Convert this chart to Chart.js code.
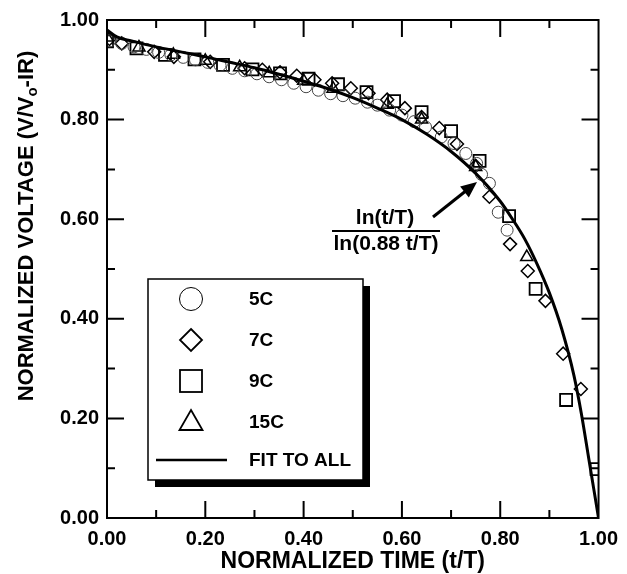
<!DOCTYPE html>
<html>
<head>
<meta charset="utf-8">
<script src="https://cdn.jsdelivr.net/npm/chart.js@4.4.0/dist/chart.umd.min.js"></script>
<style>
  html, body { margin: 0; padding: 0; background: #fff; }
  canvas { display: block; }
</style>
</head>
<body>
<canvas id="chart" width="627" height="574"></canvas>
<script>
// values (t/T, V/Vo-IR)
const fitTime = [0, 0.02, 0.05, 0.1, 0.15, 0.2, 0.25, 0.3, 0.35, 0.4, 0.45, 0.5, 0.55, 0.6, 0.65, 0.7, 0.75, 0.8, 0.825, 0.85, 0.875, 0.9, 0.925, 0.95, 0.965, 0.98, 0.99, 1.0];
const fitVolt = [0.98, 0.966, 0.958, 0.946, 0.936, 0.926, 0.915, 0.904, 0.891, 0.877, 0.862, 0.844, 0.823, 0.8, 0.771, 0.736, 0.692, 0.636, 0.6, 0.56, 0.51, 0.452, 0.38, 0.286, 0.21, 0.12, 0.06, 0];

const c5Time = [0.005, 0.03, 0.055, 0.08, 0.105, 0.13, 0.155, 0.18, 0.205, 0.23, 0.255, 0.28, 0.305, 0.33, 0.355, 0.38, 0.405, 0.43, 0.455, 0.48, 0.505, 0.53, 0.55, 0.575, 0.6, 0.625, 0.648, 0.68, 0.706, 0.73, 0.752, 0.762, 0.778, 0.796, 0.814];
const c5Volt = [0.958, 0.953, 0.946, 0.941, 0.935, 0.930, 0.925, 0.920, 0.915, 0.909, 0.903, 0.898, 0.892, 0.886, 0.880, 0.873, 0.866, 0.859, 0.852, 0.848, 0.843, 0.835, 0.829, 0.819, 0.809, 0.796, 0.785, 0.765, 0.752, 0.732, 0.712, 0.69, 0.672, 0.614, 0.578];

const c7Time = [0.005, 0.03, 0.096, 0.136, 0.21, 0.28, 0.316, 0.352, 0.386, 0.422, 0.458, 0.496, 0.532, 0.57, 0.606, 0.64, 0.676, 0.712, 0.75, 0.778, 0.82, 0.856, 0.892, 0.928, 0.964];
const c7Volt = [0.962, 0.953, 0.936, 0.926, 0.916, 0.903, 0.9, 0.895, 0.888, 0.88, 0.873, 0.863, 0.853, 0.84, 0.823, 0.805, 0.783, 0.751, 0.707, 0.645, 0.55, 0.496, 0.436, 0.33, 0.259];

const c9Time = [0, 0.06, 0.118, 0.178, 0.236, 0.296, 0.352, 0.41, 0.47, 0.528, 0.584, 0.64, 0.70, 0.758, 0.818, 0.872, 0.934, 0.996];
const c9Volt = [0.957, 0.943, 0.93, 0.921, 0.91, 0.901, 0.893, 0.882, 0.871, 0.855, 0.837, 0.815, 0.777, 0.717, 0.606, 0.46, 0.237, 0.098];

const c15Time = [0, 0.065, 0.135, 0.2, 0.27, 0.33, 0.4, 0.46, 0.57, 0.64, 0.75, 0.854];
const c15Volt = [0.965, 0.945, 0.93, 0.918, 0.905, 0.893, 0.878, 0.862, 0.83, 0.80, 0.705, 0.524];

const tickLabels = ['0.00', '0.20', '0.40', '0.60', '0.80', '1.00'];
const legendLabels = ['5C', '7C', '9C', '15C', 'FIT TO ALL'];

const FONT = '"Liberation Sans", Arial, Helvetica, sans-serif';

function pts(xs, ys) {
    return xs.map((x, i) => ({ x: x, y: ys[i] }));
}

// frame, inward ticks, titles, annotation and boxed legend
const decorations = {
    id: 'decorations',
    afterDraw(chart) {
        const ctx = chart.ctx;
        const a = chart.chartArea;
        const xs = chart.scales.x, ys = chart.scales.y;
        ctx.save();
        ctx.strokeStyle = '#000';
        ctx.lineWidth = 2;
        ctx.strokeRect(a.left, a.top, a.right - a.left, a.bottom - a.top);

        ctx.beginPath();
        for (let i = 1; i < 10; i++) {
            const len = i % 2 === 0 ? 17 : 8;
            const px = xs.getPixelForValue(i / 10);
            ctx.moveTo(px, a.bottom); ctx.lineTo(px, a.bottom - len);
            ctx.moveTo(px, a.top); ctx.lineTo(px, a.top + len);
            const py = ys.getPixelForValue(i / 10);
            ctx.moveTo(a.left, py); ctx.lineTo(a.left + len, py);
            ctx.moveTo(a.right, py); ctx.lineTo(a.right - len, py);
        }
        ctx.stroke();

        // axis titles
        ctx.fillStyle = '#000';
        ctx.textBaseline = 'middle';
        ctx.textAlign = 'center';
        ctx.font = 'bold 23px ' + FONT;
        ctx.fillText('NORMALIZED TIME (t/T)', (a.left + a.right) / 2, 562);

        ctx.save();
        ctx.translate(27, 226);
        ctx.rotate(-Math.PI / 2);
        const big = 'bold 22px ' + FONT, small = 'bold 15px ' + FONT;
        const p1 = 'NORMALIZED VOLTAGE (V/V', p2 = 'o', p3 = '-IR)';
        ctx.font = big; const w1 = ctx.measureText(p1).width, w3 = ctx.measureText(p3).width;
        ctx.font = small; const w2 = ctx.measureText(p2).width;
        let x0 = -(w1 + w2 + w3) / 2;
        ctx.textAlign = 'left';
        ctx.font = big; ctx.fillText(p1, x0, 0);
        ctx.font = small; ctx.fillText(p2, x0 + w1, 6);
        ctx.font = big; ctx.fillText(p3, x0 + w1 + w2, 0);
        ctx.restore();

        // fraction annotation and arrow
        ctx.textAlign = 'center';
        ctx.font = 'bold 21px ' + FONT;
        ctx.fillText('ln(t/T)', 385, 218);
        ctx.fillText('ln(0.88 t/T)', 386, 244);
        ctx.lineWidth = 2;
        ctx.beginPath(); ctx.moveTo(332, 231); ctx.lineTo(440, 231); ctx.stroke();

        const ax0 = 433, ay0 = 217, ax1 = 477, ay1 = 182;
        const ang = Math.atan2(ay1 - ay0, ax1 - ax0);
        ctx.lineWidth = 3;
        ctx.beginPath(); ctx.moveTo(ax0, ay0);
        ctx.lineTo(ax1 - 12 * Math.cos(ang), ay1 - 12 * Math.sin(ang)); ctx.stroke();
        ctx.beginPath();
        ctx.moveTo(ax1, ay1);
        ctx.lineTo(ax1 - 16 * Math.cos(ang) + 7 * Math.sin(ang), ay1 - 16 * Math.sin(ang) - 7 * Math.cos(ang));
        ctx.lineTo(ax1 - 16 * Math.cos(ang) - 7 * Math.sin(ang), ay1 - 16 * Math.sin(ang) + 7 * Math.cos(ang));
        ctx.closePath(); ctx.fill();

        // legend box with drop shadow
        ctx.fillStyle = '#000';
        ctx.fillRect(155, 286, 215, 201);
        ctx.fillStyle = '#fff';
        ctx.fillRect(148, 279, 215, 201);
        ctx.lineWidth = 1.5;
        ctx.strokeRect(148, 279, 215, 201);

        const cx = 191, rows = [299, 340, 381, 422, 460];
        ctx.strokeStyle = '#000';
        ctx.lineWidth = 1;
        ctx.beginPath(); ctx.arc(cx, rows[0], 11.5, 0, Math.PI * 2); ctx.stroke();
        ctx.lineWidth = 1.8;
        ctx.beginPath();
        ctx.moveTo(cx, rows[1] - 11); ctx.lineTo(cx + 11, rows[1]);
        ctx.lineTo(cx, rows[1] + 11); ctx.lineTo(cx - 11, rows[1]); ctx.closePath(); ctx.stroke();
        ctx.strokeRect(cx - 11, rows[2] - 11, 22, 22);
        ctx.beginPath();
        ctx.moveTo(cx, rows[3] - 12); ctx.lineTo(cx + 11.5, rows[3] + 8);
        ctx.lineTo(cx - 11.5, rows[3] + 8); ctx.closePath(); ctx.stroke();
        ctx.lineWidth = 2.5;
        ctx.beginPath(); ctx.moveTo(156, rows[4]); ctx.lineTo(227, rows[4]); ctx.stroke();

        ctx.fillStyle = '#000';
        ctx.textAlign = 'left';
        ctx.font = 'bold 19px ' + FONT;
        legendLabels.forEach((t, i) => ctx.fillText(t, 249, rows[i] + 1));
        ctx.restore();
    }
};

const tickFont = { family: FONT, size: 20, weight: 'bold' };

new Chart(document.getElementById('chart'), {
    type: 'scatter',
    data: {
        datasets: [
            { label: 'FIT TO ALL', data: pts(fitTime, fitVolt), showLine: true, borderColor: '#000', borderWidth: 3, pointRadius: 0, cubicInterpolationMode: 'monotone', fill: false },
            { label: '5C', data: pts(c5Time, c5Volt), pointStyle: 'circle', pointRadius: 6, borderColor: '#444', borderWidth: 1, backgroundColor: 'transparent' },
            { label: '7C', data: pts(c7Time, c7Volt), pointStyle: 'rectRot', pointRadius: 6.5, borderColor: '#000', borderWidth: 1.5, backgroundColor: 'transparent' },
            { label: '9C', data: pts(c9Time, c9Volt), pointStyle: 'rect', pointRadius: 8.5, borderColor: '#000', borderWidth: 1.8, backgroundColor: 'transparent' },
            { label: '15C', data: pts(c15Time, c15Volt), pointStyle: 'triangle', pointRadius: 7, borderColor: '#000', borderWidth: 1.5, backgroundColor: 'transparent' }
        ]
    },
    options: {
        responsive: false,
        animation: false,
        devicePixelRatio: 1,
        layout: { padding: { top: 20, right: 20, left: 0, bottom: 0 } },
        plugins: { legend: { display: false }, tooltip: { enabled: false } },
        scales: {
            x: {
                type: 'linear', min: 0, max: 1,
                grid: { display: false, drawTicks: false },
                border: { display: false },
                ticks: { stepSize: 0.2, color: '#000', font: tickFont, padding: 9, maxRotation: 0,
                    callback: (v) => tickLabels[Math.round(v * 5)] },
                afterFit: (s) => { s.height = 56; }
            },
            y: {
                type: 'linear', min: 0, max: 1,
                grid: { display: false, drawTicks: false },
                border: { display: false },
                ticks: { stepSize: 0.2, color: '#000', font: tickFont, padding: 8,
                    callback: (v) => tickLabels[Math.round(v * 5)] },
                afterFit: (s) => { s.width = 107; }
            }
        }
    },
    plugins: [decorations]
});
</script>
</body>
</html>
